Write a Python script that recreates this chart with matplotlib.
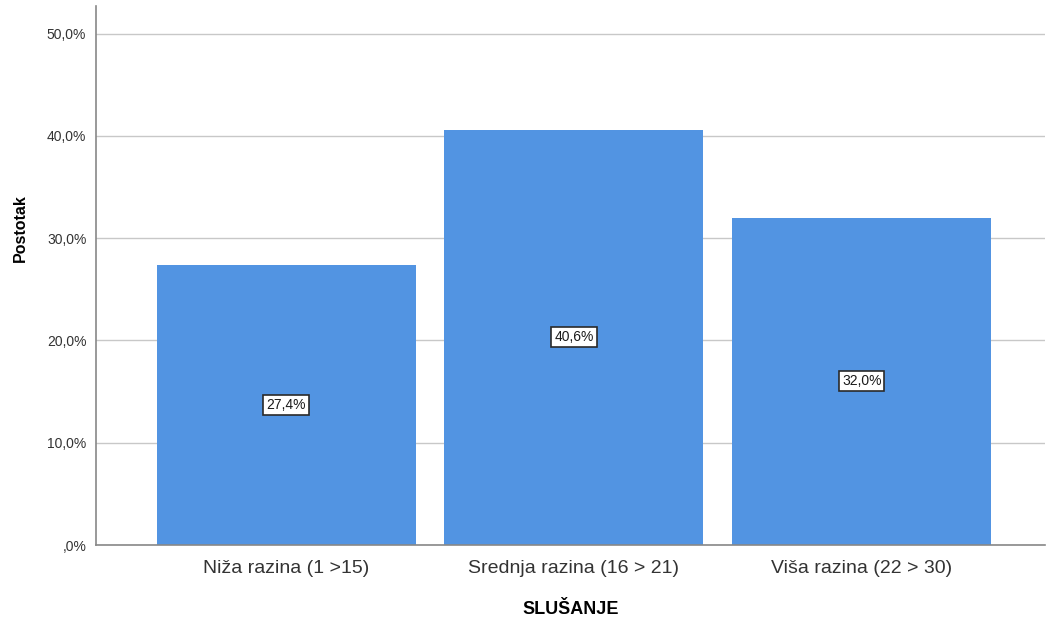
import numpy as np
import matplotlib.pyplot as plt
from matplotlib.ticker import FuncFormatter

categories = ['Niža razina (1 >15)', 'Srednja razina (16 > 21)', 'Viša razina (22 > 30)']
percents = [27.4, 40.6, 32.0]
yticks = [0, 10, 20, 30, 40, 50]

plt.rcParams['font.family'] = ['Liberation Sans', 'DejaVu Sans']

BLUE = '#5294e2'

fig = plt.figure(figsize=(10.46, 6.19), dpi=100)
ax = fig.add_axes([0.0918, 0.1195, 0.9072, 0.8708])

x = np.arange(len(categories))
ax.bar(x, percents, width=0.9, color=BLUE, zorder=2)

# value labels in little boxes at half bar height
for xi, p in zip(x, percents):
    ax.text(xi, p / 2, ('%.1f%%' % p).replace('.', ','), ha='center', va='center',
            fontsize=10, color='#1a1a1a', zorder=3,
            bbox=dict(boxstyle='square,pad=0.22', fc='white', ec='#2a2a2a', lw=1.2))

def fmt(v, pos):
    s = ('%.1f%%' % v).replace('.', ',')
    if s.startswith('0,'):
        s = s[1:]
    return s

ax.set_ylim(0, 52.7)
ax.set_xlim(-0.661, 2.637)
ax.set_yticks(yticks)
ax.yaxis.set_major_formatter(FuncFormatter(fmt))
ax.set_xticks(x)
ax.set_xticklabels(categories)
ax.tick_params(axis='y', length=0, pad=7, labelsize=10, labelcolor='#333333')
ax.tick_params(axis='x', length=0, pad=11, labelsize=14, labelcolor='#333333')
ax.grid(axis='y', color='#c8c8c8', lw=1, zorder=1)

for s in ['top', 'right']:
    ax.spines[s].set_visible(False)
for s in ['left', 'bottom']:
    ax.spines[s].set_color('#888888')
    ax.spines[s].set_linewidth(1.2)

ax.set_ylabel('Postotak', fontsize=11.5, fontweight='bold')
ax.set_xlabel('SLUŠANJE', fontsize=13, fontweight='bold', labelpad=17)
ax.yaxis.set_label_coords(-0.072, 0.588)

fig.savefig('out.png', dpi=100)
